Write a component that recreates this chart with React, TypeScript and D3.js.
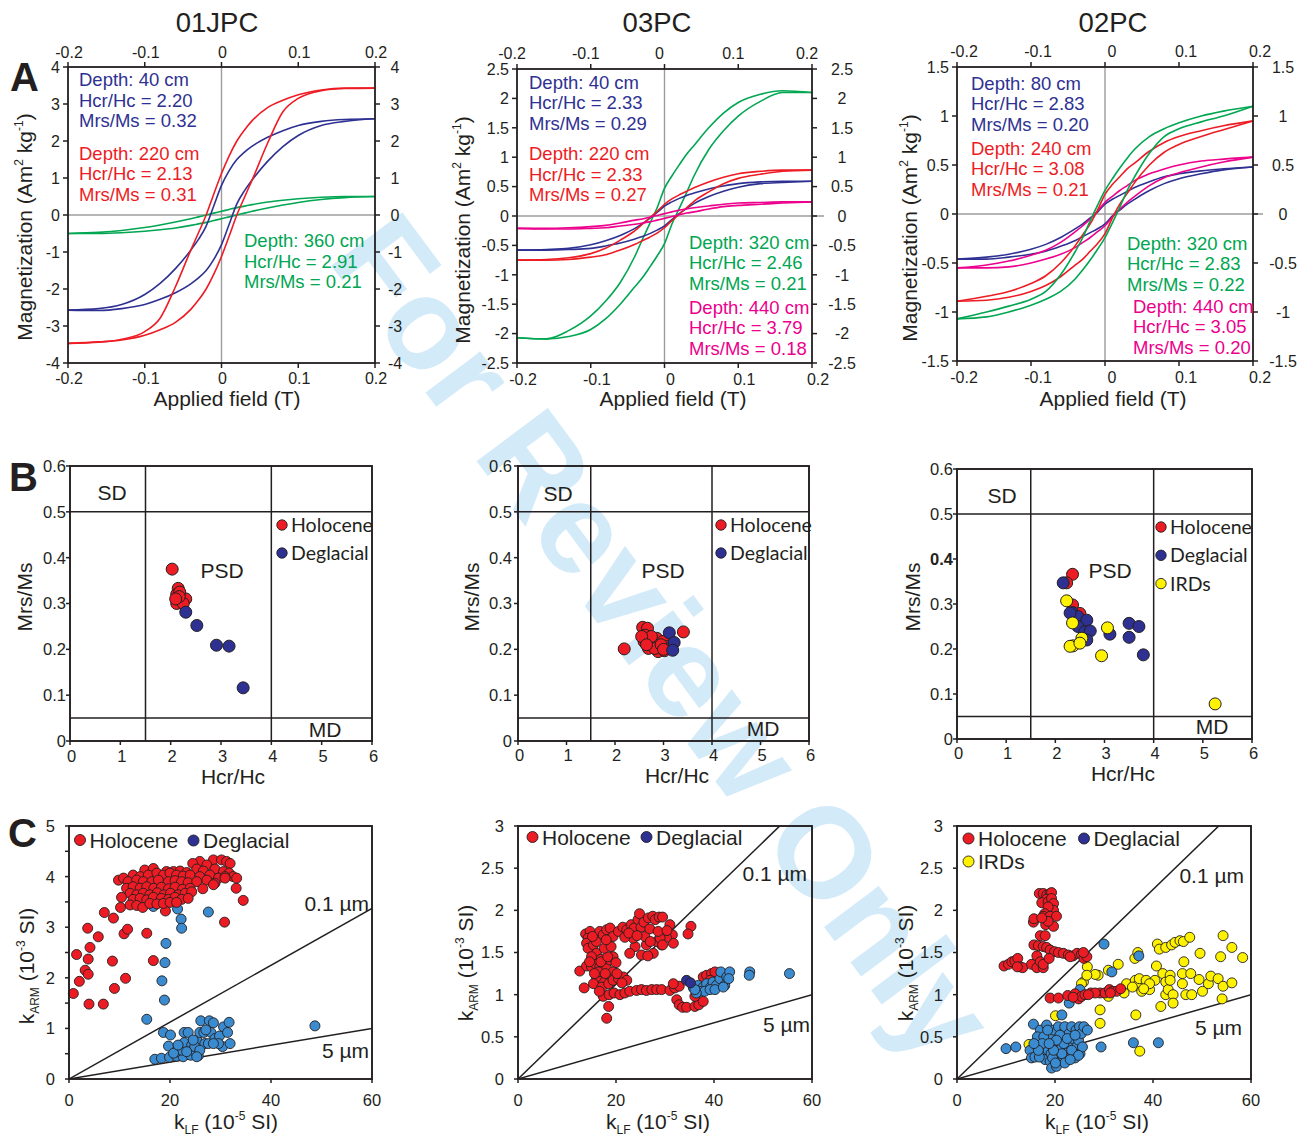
import React from 'react';
import * as d3 from 'd3';

const SANS = '"Liberation Sans", Arial, Helvetica, sans-serif';
const LEGEND_SANS = 'Lato, "Liberation Sans", sans-serif';
const INK = '#231f20';

const NAVY = '#2e3192';
const RED = '#ed1c24';
const GREEN = '#00a651';
const MAGENTA = '#ec008c';
const SKY = '#3b8bd0';
const YELLOW = '#fff200';

// ---------- A: hysteresis loops (field in T, magnetization in Am2/kg) ----------
const FIELD_T = [-0.2, -0.16, -0.13, -0.1, -0.08, -0.06, -0.04, -0.03, -0.02, -0.01, 0, 0.01, 0.02, 0.03, 0.04, 0.06, 0.08, 0.1, 0.13, 0.16, 0.2];
const FIELD_TICKS = [-0.2, -0.1, 0, 0.1, 0.2];

// 01JPC
const jpc01_40cm_desc = [-2.57, -2.53, -2.42, -2.15, -1.85, -1.45, -0.95, -0.66, -0.3, 0.25, 0.8, 1.2, 1.5, 1.7, 1.86, 2.1, 2.28, 2.42, 2.53, 2.58, 2.6];
const jpc01_40cm_asc = [-2.57, -2.58, -2.53, -2.42, -2.28, -2.1, -1.86, -1.7, -1.5, -1.2, -0.8, -0.25, 0.3, 0.66, 0.95, 1.45, 1.85, 2.15, 2.42, 2.53, 2.6];
const jpc01_220cm_desc = [-3.47, -3.44, -3.36, -3.15, -2.79, -1.94, -0.95, -0.48, 0.0, 0.57, 1.12, 1.6, 2.0, 2.3, 2.55, 2.9, 3.1, 3.25, 3.38, 3.43, 3.43];
const jpc01_220cm_asc = [-3.47, -3.43, -3.38, -3.25, -3.1, -2.9, -2.55, -2.3, -2.0, -1.6, -1.12, -0.57, 0.0, 0.48, 0.95, 1.94, 2.79, 3.15, 3.36, 3.42, 3.43];
const jpc01_360cm_desc = [-0.5, -0.47, -0.42, -0.34, -0.27, -0.19, -0.1, -0.05, 0.0, 0.05, 0.1, 0.15, 0.2, 0.24, 0.28, 0.35, 0.4, 0.44, 0.48, 0.5, 0.5];
const jpc01_360cm_asc = [-0.5, -0.5, -0.48, -0.44, -0.4, -0.35, -0.28, -0.24, -0.2, -0.15, -0.1, -0.05, 0.0, 0.05, 0.1, 0.19, 0.27, 0.34, 0.42, 0.47, 0.5];

// 03PC
const pc03_40cm_desc = [-0.58, -0.57, -0.55, -0.49, -0.42, -0.33, -0.21, -0.13, -0.04, 0.06, 0.17, 0.24, 0.3, 0.35, 0.39, 0.46, 0.51, 0.55, 0.58, 0.59, 0.59];
const pc03_40cm_asc = [-0.58, -0.58, -0.57, -0.55, -0.51, -0.46, -0.39, -0.35, -0.3, -0.24, -0.17, -0.06, 0.04, 0.13, 0.21, 0.33, 0.42, 0.49, 0.55, 0.57, 0.59];
const pc03_220cm_desc = [-0.75, -0.74, -0.71, -0.64, -0.55, -0.41, -0.25, -0.14, -0.03, 0.08, 0.2, 0.29, 0.36, 0.42, 0.48, 0.58, 0.66, 0.72, 0.76, 0.78, 0.78];
const pc03_220cm_asc = [-0.75, -0.75, -0.74, -0.7, -0.66, -0.58, -0.48, -0.42, -0.36, -0.29, -0.2, -0.08, 0.03, 0.14, 0.25, 0.41, 0.55, 0.64, 0.71, 0.76, 0.78];
const pc03_320cm_desc = [-2.07, -2.09, -1.95, -1.7, -1.45, -1.13, -0.68, -0.4, -0.13, 0.14, 0.47, 0.68, 0.87, 1.05, 1.2, 1.5, 1.75, 1.93, 2.07, 2.13, 2.1];
const pc03_320cm_asc = [-2.07, -2.09, -2.05, -1.93, -1.75, -1.5, -1.2, -1.05, -0.87, -0.68, -0.47, -0.14, 0.13, 0.4, 0.68, 1.13, 1.45, 1.7, 1.95, 2.1, 2.1];
const pc03_440cm_desc = [-0.21, -0.21, -0.2, -0.18, -0.16, -0.12, -0.07, -0.05, -0.02, 0.01, 0.04, 0.07, 0.1, 0.12, 0.14, 0.17, 0.2, 0.22, 0.23, 0.24, 0.24];
const pc03_440cm_asc = [-0.21, -0.22, -0.22, -0.21, -0.2, -0.17, -0.14, -0.12, -0.1, -0.07, -0.04, -0.01, 0.02, 0.05, 0.07, 0.12, 0.16, 0.18, 0.2, 0.22, 0.24];

// 02PC
const pc02_80cm_desc = [-0.46, -0.44, -0.41, -0.36, -0.31, -0.24, -0.15, -0.1, -0.04, 0.02, 0.1, 0.15, 0.19, 0.23, 0.27, 0.33, 0.38, 0.41, 0.44, 0.46, 0.48];
const pc02_80cm_asc = [-0.46, -0.46, -0.44, -0.41, -0.38, -0.33, -0.27, -0.23, -0.19, -0.15, -0.1, -0.02, 0.04, 0.1, 0.15, 0.24, 0.31, 0.36, 0.41, 0.45, 0.48];
const pc02_240cm_desc = [-0.89, -0.84, -0.79, -0.71, -0.63, -0.5, -0.32, -0.21, -0.1, 0.04, 0.2, 0.3, 0.38, 0.46, 0.52, 0.64, 0.73, 0.79, 0.85, 0.9, 0.95];
const pc02_240cm_asc = [-0.89, -0.88, -0.85, -0.79, -0.73, -0.64, -0.52, -0.46, -0.38, -0.3, -0.2, -0.04, 0.1, 0.21, 0.32, 0.5, 0.63, 0.71, 0.79, 0.86, 0.95];
const pc02_320cm_desc = [-1.07, -1.0, -0.94, -0.87, -0.79, -0.62, -0.38, -0.24, -0.07, 0.09, 0.24, 0.36, 0.47, 0.57, 0.66, 0.79, 0.87, 0.93, 1.0, 1.05, 1.1];
const pc02_320cm_asc = [-1.07, -1.05, -1.0, -0.93, -0.87, -0.79, -0.66, -0.57, -0.47, -0.36, -0.24, -0.09, 0.07, 0.24, 0.38, 0.62, 0.79, 0.87, 0.94, 1.0, 1.1];
const pc02_440cm_desc = [-0.55, -0.52, -0.48, -0.42, -0.37, -0.29, -0.18, -0.12, -0.05, 0.03, 0.12, 0.18, 0.24, 0.29, 0.34, 0.41, 0.46, 0.5, 0.54, 0.56, 0.58];
const pc02_440cm_asc = [-0.55, -0.55, -0.54, -0.5, -0.46, -0.41, -0.34, -0.29, -0.24, -0.18, -0.12, -0.03, 0.05, 0.12, 0.18, 0.29, 0.37, 0.42, 0.48, 0.53, 0.58];

// ---------- B: Day plot (Hcr/Hc vs Mrs/Ms) ----------
const HCR_HC_TICKS = [0, 1, 2, 3, 4, 5, 6];
const MRS_MS_TICKS = [0, 0.1, 0.2, 0.3, 0.4, 0.5, 0.6];
const DOMAIN_HCR_HC = [1.5, 4];
const DOMAIN_MRS_MS = [0.05, 0.5];

const jpc01DayHolocene = [[2.03, 0.375], [2.15, 0.333], [2.12, 0.32], [2.12, 0.3], [2.2, 0.31], [2.3, 0.31], [2.18, 0.325], [2.25, 0.3], [2.17, 0.315], [2.1, 0.31]];
const jpc01DayDeglacial = [[2.3, 0.281], [2.52, 0.252], [2.91, 0.209], [3.16, 0.207], [3.44, 0.116]];

const pc03DayHolocene = [[2.19, 0.201], [3.41, 0.238], [2.57, 0.248], [2.67, 0.246], [2.62, 0.231], [2.6, 0.217], [2.69, 0.202], [2.79, 0.213], [2.86, 0.224], [2.89, 0.195], [2.99, 0.217], [3.02, 0.197], [3.06, 0.206], [3.13, 0.202], [2.92, 0.206], [2.75, 0.228], [2.82, 0.202], [2.55, 0.228], [2.65, 0.21], [2.95, 0.21], [3.0, 0.2]];
const pc03DayDeglacial = [[3.12, 0.236], [3.22, 0.215], [3.19, 0.198]];

const pc02DayHolocene = [[2.35, 0.366], [2.23, 0.347], [2.35, 0.298], [2.5, 0.279]];
const pc02DayDeglacial = [[2.16, 0.347], [2.35, 0.281], [2.46, 0.272], [2.64, 0.264], [2.46, 0.25], [2.6, 0.238], [2.71, 0.24], [2.64, 0.22], [3.11, 0.233], [3.5, 0.257], [3.7, 0.25], [3.5, 0.226], [3.79, 0.187], [2.3, 0.28]];
const pc02DayIRD = [[2.23, 0.307], [2.35, 0.258], [3.06, 0.247], [2.94, 0.185], [2.54, 0.224], [2.36, 0.207], [2.3, 0.206], [2.5, 0.213], [5.25, 0.078]];

// ---------- C: kARM (10^-3 SI) vs kLF (10^-5 SI) ----------
const KLF_TICKS = [0, 20, 40, 60];
const GRAIN_01UM = [[0, 0], [60, 3.37]];
const GRAIN_5UM = [[0, 0], [60, 1.0]];

const jpc01KHolocene = [
  [0.86, 1.69], [1.5, 2.46], [2.05, 1.93], [3.2, 2.15], [3.8, 2.07], [3.96, 1.48], [3.8, 2.37], [3.7, 2.98], [4.16, 2.6], [5.8, 2.81],
  [6.8, 1.48], [7.0, 3.29], [8.6, 2.33], [8.8, 3.18], [9.0, 1.79], [10.9, 2.87], [11.6, 2.96], [11.2, 1.99], [15.4, 2.88], [16.7, 2.34],
  [19.1, 3.32], [30.8, 3.1], [34.5, 3.53],
  [25.9, 4.3], [28.6, 4.33], [30.2, 4.33], [31.2, 4.3], [31.9, 4.26], [24.5, 4.26], [27.3, 4.23],
  [15.0, 4.13], [16.7, 4.16], [19.3, 4.1], [20.7, 4.1], [22.0, 4.11], [23.3, 4.08], [25.3, 4.15], [26.6, 4.11], [28.9, 4.15], [30.6, 4.1], [31.7, 4.07], [32.5, 4.0], [33.2, 3.97],
  [9.8, 3.93], [10.8, 3.97], [12.7, 4.03], [14.1, 4.0], [15.7, 4.03], [17.4, 4.07], [18.7, 4.03], [20.0, 4.07], [21.3, 4.03], [22.6, 4.01], [24.0, 4.03], [25.9, 4.0], [27.9, 4.03], [29.6, 3.97], [30.9, 4.0],
  [11.7, 3.9], [13.4, 3.93], [14.7, 3.9], [16.4, 3.9], [17.7, 3.93], [19.7, 3.9], [21.0, 3.92], [22.3, 3.9], [23.6, 3.88], [25.3, 3.9], [27.3, 3.93], [28.9, 3.87], [30.9, 3.97],
  [11.4, 3.77], [12.7, 3.8], [14.1, 3.77], [15.4, 3.8], [16.8, 3.77], [18.3, 3.79], [19.7, 3.76], [21.0, 3.79], [22.5, 3.75], [24.0, 3.77], [26.5, 3.76], [28.6, 3.84], [33.1, 3.77],
  [12.1, 3.67], [13.4, 3.64], [14.7, 3.67], [16.0, 3.64], [17.5, 3.68], [18.8, 3.64], [20.1, 3.67], [21.6, 3.64], [23.0, 3.67], [24.3, 3.7],
  [10.4, 3.59], [12.7, 3.55], [14.1, 3.57], [15.4, 3.54], [16.7, 3.59], [18.3, 3.57], [19.7, 3.55], [21.0, 3.59], [22.3, 3.55], [23.6, 3.57],
  [10.2, 3.39], [12.1, 3.44], [13.4, 3.43], [14.6, 3.39], [16.0, 3.47], [17.4, 3.46], [18.7, 3.47], [20.0, 3.49], [21.3, 3.49],
];
const jpc01KDeglacial = [
  [16.7, 3.67], [16.7, 3.41], [21.5, 3.36], [22.2, 3.16], [22.3, 2.98], [27.6, 3.3], [19.2, 2.68], [19.0, 2.3], [18.4, 1.94], [18.9, 1.56], [15.4, 1.18], [48.7, 1.05],
  [17.0, 0.39], [18.3, 0.41], [19.9, 0.43], [21.3, 0.45], [22.6, 0.44], [24.1, 0.47], [25.6, 0.46], [18.7, 0.92], [20.1, 0.87], [19.7, 0.65],
  [21.3, 0.54], [22.3, 0.57], [22.8, 0.72], [22.8, 0.92], [23.6, 0.92], [24.3, 0.67], [24.5, 0.57], [25.3, 0.77], [25.9, 0.92], [26.1, 1.15],
  [26.7, 0.92], [26.9, 0.7], [27.8, 1.15], [28.6, 1.11], [28.1, 0.92], [27.6, 0.7], [28.9, 0.8], [29.8, 0.85], [30.6, 1.03], [30.4, 0.64],
  [31.4, 0.92], [31.7, 1.12], [31.9, 0.7], [29.6, 0.7], [28.6, 0.7], [24.9, 0.64], [25.9, 0.57], [20.7, 0.51], [23.3, 0.54], [25.3, 0.44],
  [27.1, 0.97], [24.6, 0.77], [21.6, 0.67],
];

const pc03KHolocene = [
  [12.6, 1.28], [13.5, 1.08], [13.8, 1.72], [14.7, 1.75], [14.3, 1.67], [14.0, 1.61], [14.3, 1.55], [15.4, 1.59], [16.0, 1.63], [16.7, 1.75],
  [17.4, 1.71], [18.1, 1.77], [18.8, 1.79], [19.4, 1.69], [20.5, 1.75], [21.4, 1.8], [22.2, 1.77], [23.1, 1.83], [23.7, 1.79], [24.5, 1.89],
  [24.8, 1.96], [25.1, 1.8], [25.7, 1.86], [26.6, 1.91], [27.5, 1.93], [28.0, 1.89], [28.8, 1.92], [29.5, 1.92], [31.0, 1.83], [31.5, 1.71],
  [31.7, 1.61], [30.3, 1.68], [29.3, 1.59], [28.3, 1.63], [27.6, 1.49], [26.2, 1.59], [25.2, 1.47], [23.9, 1.57], [22.8, 1.49], [23.5, 1.67],
  [25.9, 1.69], [27.0, 1.63], [29.0, 1.67], [29.5, 1.59], [35.3, 1.81], [34.7, 1.72], [21.8, 1.68], [16.0, 1.49], [16.9, 1.42], [15.0, 1.45],
  [14.0, 1.34], [15.0, 1.33], [15.9, 1.36], [16.7, 1.33], [17.4, 1.36], [18.1, 1.31], [18.8, 1.41], [19.4, 1.45], [20.0, 1.38], [19.4, 1.27],
  [18.1, 1.21], [17.3, 1.17], [16.0, 1.21], [15.4, 1.13], [17.1, 1.09], [18.5, 1.13], [19.4, 1.17], [20.5, 1.19], [21.5, 1.21], [22.2, 1.17],
  [21.2, 1.14], [17.4, 0.98], [18.6, 1.0], [18.5, 0.86], [18.1, 0.72], [19.6, 1.02], [20.8, 1.0], [21.8, 1.02], [22.8, 1.04], [24.2, 1.05],
  [25.2, 1.06], [26.2, 1.05], [27.3, 1.06], [28.3, 1.06], [29.3, 1.06], [31.0, 1.05], [32.0, 1.08], [32.9, 1.1], [31.7, 1.13], [32.4, 0.94],
  [32.9, 0.88], [33.6, 0.85], [34.4, 0.85], [36.1, 0.86], [36.9, 0.88], [37.8, 0.92], [36.1, 0.98], [37.8, 1.21], [38.5, 1.23], [39.5, 1.25],
  [40.2, 1.27], [39.2, 1.17], [16.4, 1.27], [17.8, 1.25], [15.6, 1.25], [16.9, 1.39], [18.3, 1.45], [14.6, 1.39], [17.6, 1.55], [19.0, 1.57],
  [20.2, 1.25], [16.6, 1.04], [15.2, 1.69], [18.0, 1.65], [22.6, 1.73], [24.3, 1.7], [26.9, 1.78], [28.6, 1.75], [30.4, 1.76], [26.5, 1.46],
];
const pc03KDeglacialNavy = [[34.4, 1.17], [35.2, 1.14]];
const pc03KDeglacial = [
  [35.8, 1.08], [36.8, 1.11], [37.8, 1.09], [38.5, 1.13], [39.3, 1.09], [39.8, 1.15], [40.5, 1.11], [41.2, 1.19], [41.4, 1.27], [42.2, 1.11],
  [42.6, 1.21], [43.2, 1.27], [43.0, 1.19], [37.1, 1.04], [38.1, 1.04], [39.2, 1.06], [40.2, 1.06], [36.4, 1.02], [47.3, 1.27], [47.2, 1.23],
  [55.4, 1.25], [41.9, 1.09], [36.1, 1.06],
];

const pc02KHolocene = [
  [9.6, 1.34], [10.5, 1.36], [11.2, 1.39], [11.8, 1.4], [12.4, 1.43], [12.9, 1.33], [13.4, 1.32], [12.3, 1.33],
  [15.6, 1.86], [15.7, 1.9], [16.3, 1.46], [15.2, 1.36], [16.3, 1.32], [17.6, 1.32], [17.0, 1.39], [17.6, 1.36], [15.7, 1.59], [16.6, 1.58],
  [17.0, 1.7], [18.0, 1.7], [16.8, 2.2], [17.6, 2.2], [18.3, 2.18], [19.0, 2.2], [19.3, 2.21], [18.2, 2.13], [17.3, 2.09], [18.6, 2.1],
  [19.3, 2.14], [19.7, 2.08], [19.7, 2.0], [18.6, 2.04], [17.9, 1.96], [17.6, 1.93], [19.0, 1.93], [20.3, 1.93], [18.1, 1.83], [19.7, 1.81],
  [18.6, 1.87], [17.3, 1.91],
  [17.6, 1.57], [18.3, 1.56], [19.0, 1.53], [19.9, 1.51], [20.7, 1.5], [21.7, 1.49], [22.7, 1.47], [23.7, 1.46], [24.5, 1.49], [25.4, 1.48],
  [25.9, 1.43], [26.5, 1.45], [25.8, 1.5], [23.1, 1.45], [18.8, 1.43],
  [19.0, 0.96], [20.7, 0.96], [22.6, 0.99], [24.1, 1.01], [24.8, 0.95], [25.4, 0.98], [26.1, 1.0], [27.3, 1.02], [29.2, 1.02], [30.2, 1.02],
  [31.1, 1.06], [31.8, 1.04], [32.6, 1.04], [33.4, 1.07], [31.3, 1.02], [28.2, 1.02], [26.8, 1.0], [23.7, 0.97],
];
const pc02KDeglacial = [
  [30.0, 1.6], [31.6, 1.27], [37.1, 1.46], [25.1, 1.06], [22.9, 0.9], [21.4, 0.76], [15.6, 0.65], [10.0, 0.36], [12.0, 0.38], [29.4, 0.38],
  [36.0, 0.43], [41.1, 0.43],
  [14.9, 0.34], [15.2, 0.25], [15.9, 0.26], [16.3, 0.4], [17.0, 0.58], [17.3, 0.46], [17.6, 0.3], [18.0, 0.23], [18.3, 0.64], [18.3, 0.42],
  [18.6, 0.34], [19.0, 0.5], [19.0, 0.21], [19.3, 0.13], [19.7, 0.58], [19.7, 0.42], [20.0, 0.26], [20.3, 0.34], [20.3, 0.15], [20.7, 0.62],
  [20.7, 0.46], [21.0, 0.26], [21.4, 0.38], [21.6, 0.54], [21.7, 0.26], [22.0, 0.62], [22.2, 0.44], [22.4, 0.32], [22.7, 0.25], [22.9, 0.54],
  [23.1, 0.4], [23.4, 0.62], [23.6, 0.48], [23.7, 0.3], [24.1, 0.25], [24.3, 0.58], [24.4, 0.38], [24.8, 0.46], [25.0, 0.62], [25.1, 0.3],
  [25.4, 0.54], [25.6, 0.38], [25.9, 0.62], [26.6, 0.58], [16.8, 0.26], [16.4, 0.5], [17.7, 0.5], [17.4, 0.42], [18.5, 0.58], [19.2, 0.3],
  [19.5, 0.25], [21.0, 0.52], [21.8, 0.42], [22.5, 0.48], [23.4, 0.34], [20.3, 0.46], [21.4, 0.3], [19.7, 0.34], [18.8, 0.42], [24.1, 0.52],
  [24.8, 0.28], [16.6, 0.34], [15.7, 0.42], [22.0, 0.19], [20.1, 0.19], [23.1, 0.23],
];
const pc02KIRD = [
  [17.6, 0.47], [14.7, 0.41], [20.1, 0.75],
  [26.6, 1.33], [25.8, 1.15], [28.8, 1.23], [28.2, 1.24], [30.9, 1.29], [32.9, 1.36], [34.1, 1.02], [34.6, 1.13], [36.3, 1.43], [36.9, 1.5],
  [36.4, 1.17], [36.8, 1.11], [37.2, 1.19], [35.8, 1.09], [37.7, 1.04], [38.6, 1.17], [39.3, 1.06], [40.4, 1.17], [40.7, 1.34], [40.9, 1.6],
  [41.3, 1.54], [42.6, 1.56], [43.8, 1.59], [44.5, 1.62], [45.5, 1.64], [46.2, 1.63], [47.5, 1.68], [42.0, 1.25], [42.6, 1.15], [42.6, 1.0],
  [43.1, 1.06], [43.5, 1.23], [43.5, 1.17], [44.1, 1.0], [44.1, 0.9], [41.6, 0.86], [46.0, 1.13], [46.0, 1.25], [46.3, 1.39], [46.7, 1.0],
  [47.7, 1.25], [47.9, 1.0], [49.6, 1.49], [49.4, 1.18], [50.1, 1.04], [51.3, 1.13], [51.8, 1.22], [53.3, 1.19], [53.8, 1.45], [54.3, 1.7],
  [54.3, 1.1], [54.1, 0.95], [56.1, 1.56], [56.1, 1.14], [58.3, 1.44], [29.2, 0.66], [29.2, 0.82], [26.5, 1.23], [37.3, 0.33], [36.5, 0.76],
  [30.9, 0.98], [39.3, 1.13], [38.1, 1.07], [25.4, 1.13],
];

// ---------- layout ----------
type Loop = { desc: number[]; asc: number[]; color: string };
type Note = { x: number; y: number; color: string; lines: string[] };

const HYST_PANELS = [
  {
    title: '01JPC', titleX: 217, left: 68, top: 67, width: 307, height: 296, yMax: 4, yStep: 1,
    topLabelY: 58, bottomLabelY: 384, topShift: 1, bottomShift: 1, rightLabelCx: 20, zeroExtend: 0,
    yTitleX: 32, yTitleY: 227, xTitleX: 227,
    loops: [
      { desc: jpc01_360cm_desc, asc: jpc01_360cm_asc, color: GREEN },
      { desc: jpc01_40cm_desc, asc: jpc01_40cm_asc, color: NAVY },
      { desc: jpc01_220cm_desc, asc: jpc01_220cm_asc, color: RED },
    ] as Loop[],
    notes: [
      { x: 79, y: 86, color: NAVY, lines: ['Depth: 40 cm', 'Hcr/Hc = 2.20', 'Mrs/Ms = 0.32'] },
      { x: 79, y: 159.5, color: RED, lines: ['Depth: 220 cm', 'Hcr/Hc = 2.13', 'Mrs/Ms = 0.31'] },
      { x: 244, y: 247, color: GREEN, lines: ['Depth: 360 cm', 'Hcr/Hc = 2.91', 'Mrs/Ms = 0.21'] },
    ] as Note[],
  },
  {
    title: '03PC', titleX: 657, left: 517, top: 69, width: 295, height: 294, yMax: 2.5, yStep: 0.5,
    topLabelY: 59, bottomLabelY: 385, topShift: -5, bottomShift: 6, rightLabelCx: 30, zeroExtend: 12,
    yTitleX: 470, yTitleY: 230, xTitleX: 673,
    loops: [
      { desc: pc03_320cm_desc, asc: pc03_320cm_asc, color: GREEN },
      { desc: pc03_40cm_desc, asc: pc03_40cm_asc, color: NAVY },
      { desc: pc03_220cm_desc, asc: pc03_220cm_asc, color: RED },
      { desc: pc03_440cm_desc, asc: pc03_440cm_asc, color: MAGENTA },
    ] as Loop[],
    notes: [
      { x: 529, y: 88.5, color: NAVY, lines: ['Depth: 40 cm', 'Hcr/Hc = 2.33', 'Mrs/Ms = 0.29'] },
      { x: 529, y: 160, color: RED, lines: ['Depth: 220 cm', 'Hcr/Hc = 2.33', 'Mrs/Ms = 0.27'] },
      { x: 689, y: 248.5, color: GREEN, lines: ['Depth: 320 cm', 'Hcr/Hc = 2.46', 'Mrs/Ms = 0.21'] },
      { x: 689, y: 313.5, color: MAGENTA, lines: ['Depth: 440 cm', 'Hcr/Hc = 3.79', 'Mrs/Ms = 0.18'] },
    ] as Note[],
  },
  {
    title: '02PC', titleX: 1113, left: 957, top: 67, width: 296, height: 294, yMax: 1.5, yStep: 0.5,
    topLabelY: 57, bottomLabelY: 383, topShift: 7, bottomShift: 7, rightLabelCx: 30, zeroExtend: 10,
    yTitleX: 917, yTitleY: 228, xTitleX: 1113,
    loops: [
      { desc: pc02_80cm_desc, asc: pc02_80cm_asc, color: NAVY },
      { desc: pc02_440cm_desc, asc: pc02_440cm_asc, color: MAGENTA },
      { desc: pc02_240cm_desc, asc: pc02_240cm_asc, color: RED },
      { desc: pc02_320cm_desc, asc: pc02_320cm_asc, color: GREEN },
    ] as Loop[],
    notes: [
      { x: 971, y: 89.5, color: NAVY, lines: ['Depth: 80 cm', 'Hcr/Hc = 2.83', 'Mrs/Ms = 0.20'] },
      { x: 971, y: 154.5, color: RED, lines: ['Depth: 240 cm', 'Hcr/Hc = 3.08', 'Mrs/Ms = 0.21'] },
      { x: 1127, y: 249.5, color: GREEN, lines: ['Depth: 320 cm', 'Hcr/Hc = 2.83', 'Mrs/Ms = 0.22'] },
      { x: 1133, y: 312.5, color: MAGENTA, lines: ['Depth: 440 cm', 'Hcr/Hc = 3.05', 'Mrs/Ms = 0.20'] },
    ] as Note[],
  },
];

const fmt = (v: number) => String(Math.round(v * 100) / 100);

function HysteresisPanel(p: (typeof HYST_PANELS)[number]) {
  const { left, top, width, height, yMax, yStep } = p;
  const right = left + width;
  const bottom = top + height;
  const x = d3.scaleLinear().domain([-0.2, 0.2]).range([left, right]);
  const y = d3.scaleLinear().domain([-yMax, yMax]).range([bottom, top]);
  const yTicks = d3.range(-yMax, yMax + yStep / 2, yStep).map((v) => Math.round(v * 100) / 100);
  const line = d3
    .line<number>()
    .x((_, i) => x(FIELD_T[i]))
    .y((d) => y(d))
    .curve(d3.curveMonotoneX);
  const tk = 5;
  return (
    <g>
      <text x={p.titleX} y={32} fontSize={27.5} textAnchor="middle" fill={INK}>{p.title}</text>
      <line x1={x(0)} x2={x(0)} y1={top} y2={bottom} stroke="#9c9c9c" strokeWidth={1.4} />
      <line x1={left} x2={right + p.zeroExtend} y1={y(0)} y2={y(0)} stroke="#9c9c9c" strokeWidth={1.4} />
      {p.loops.map((l, i) => (
        <g key={i} fill="none" stroke={l.color} strokeWidth={1.6}>
          <path d={line(l.desc) || ''} />
          <path d={line(l.asc) || ''} />
        </g>
      ))}
      <rect x={left} y={top} width={width} height={height} fill="none" stroke={INK} strokeWidth={1.8} />
      {FIELD_TICKS.map((t) => (
        <g key={t}>
          <line x1={x(t)} x2={x(t)} y1={bottom} y2={bottom + tk} stroke={INK} strokeWidth={1.5} />
          <line x1={x(t)} x2={x(t)} y1={top} y2={top - tk} stroke={INK} strokeWidth={1.5} />
          <text x={x(t) + p.bottomShift} y={p.bottomLabelY} fontSize={16} textAnchor="middle" fill={INK}>{fmt(t)}</text>
          <text x={x(t) + p.topShift} y={p.topLabelY} fontSize={16} textAnchor="middle" fill={INK}>{fmt(t)}</text>
        </g>
      ))}
      {yTicks.map((t) => (
        <g key={t}>
          <line x1={left} x2={left - tk} y1={y(t)} y2={y(t)} stroke={INK} strokeWidth={1.5} />
          <line x1={right} x2={right + tk} y1={y(t)} y2={y(t)} stroke={INK} strokeWidth={1.5} />
          <text x={left - 8} y={y(t)} dy="0.36em" fontSize={16} textAnchor="end" fill={INK}>{fmt(t)}</text>
          <text x={right + p.rightLabelCx} y={y(t)} dy="0.36em" fontSize={16} textAnchor="middle" fill={INK}>{fmt(t)}</text>
        </g>
      ))}
      {p.notes.map((n, i) => (
        <text key={i} fontSize={18.5} fill={n.color}>
          {n.lines.map((s, j) => (
            <tspan key={j} x={n.x} y={n.y + j * 20.6}>{s}</tspan>
          ))}
        </text>
      ))}
      <text x={p.xTitleX} y={406} fontSize={21} textAnchor="middle" fill={INK}>Applied field (T)</text>
      <text transform={`translate(${p.yTitleX},${p.yTitleY}) rotate(-90)`} fontSize={21} textAnchor="middle" fill={INK}>
        Magnetization (Am<tspan fontSize={12} dy={-9}>2</tspan>
        <tspan dy={9}> kg</tspan>
        <tspan fontSize={12} dy={-9}>-1</tspan>
        <tspan dy={9}>)</tspan>
      </text>
    </g>
  );
}

type Series = { points: number[][]; fill: string };
type LegendItem = { label: string; fill: string };

const DAY_PANELS = [
  {
    left: 70, top: 466, width: 302, height: 275, xLabelY: 762, yLabelGap: 4, boldTick: -1,
    series: [
      { points: jpc01DayHolocene, fill: RED },
      { points: jpc01DayDeglacial, fill: NAVY },
    ] as Series[],
    legend: [{ label: 'Holocene', fill: RED }, { label: 'Deglacial', fill: NAVY }] as LegendItem[],
    legendX: 282, legendY: 525, legendStep: 28,
    sd: [112, 500], psd: [222, 578], md: [325, 737],
    yTitleX: 32, xTitleX: 233, xTitleY: 784,
  },
  {
    left: 518, top: 466, width: 291, height: 275, xLabelY: 761, yLabelGap: 6, boldTick: -1,
    series: [
      { points: pc03DayHolocene, fill: RED },
      { points: pc03DayDeglacial, fill: NAVY },
    ] as Series[],
    legend: [{ label: 'Holocene', fill: RED }, { label: 'Deglacial', fill: NAVY }] as LegendItem[],
    legendX: 721, legendY: 525, legendStep: 28,
    sd: [558, 501], psd: [663, 578], md: [763, 736],
    yTitleX: 479, xTitleX: 677, xTitleY: 783,
  },
  {
    left: 957, top: 469, width: 295, height: 270, xLabelY: 759, yLabelGap: 4, boldTick: 0.4,
    series: [
      { points: pc02DayHolocene, fill: RED },
      { points: pc02DayDeglacial, fill: NAVY },
      { points: pc02DayIRD, fill: YELLOW },
    ] as Series[],
    legend: [{ label: 'Holocene', fill: RED }, { label: 'Deglacial', fill: NAVY }, { label: 'IRDs', fill: YELLOW }] as LegendItem[],
    legendX: 1161, legendY: 527, legendStep: 28.3,
    sd: [1002, 503], psd: [1110, 578], md: [1212, 734],
    yTitleX: 920, xTitleX: 1123, xTitleY: 781,
  },
];

function DayPlot(p: (typeof DAY_PANELS)[number]) {
  const { left, top, width, height } = p;
  const right = left + width;
  const bottom = top + height;
  const x = d3.scaleLinear().domain([0, 6]).range([left, right]);
  const y = d3.scaleLinear().domain([0, 0.6]).range([bottom, top]);
  return (
    <g>
      {DOMAIN_MRS_MS.map((v) => (
        <line key={v} x1={left} x2={right} y1={y(v)} y2={y(v)} stroke={INK} strokeWidth={1.5} />
      ))}
      {DOMAIN_HCR_HC.map((v) => (
        <line key={v} x1={x(v)} x2={x(v)} y1={top} y2={bottom} stroke={INK} strokeWidth={1.5} />
      ))}
      <rect x={left} y={top} width={width} height={height} fill="none" stroke={INK} strokeWidth={1.9} />
      {HCR_HC_TICKS.map((t) => (
        <g key={t}>
          <line x1={x(t)} x2={x(t)} y1={bottom} y2={bottom + 4} stroke={INK} strokeWidth={1.5} />
          <text x={x(t) + 1.5} y={p.xLabelY} fontSize={16.5} textAnchor="middle" fill={INK}>{t}</text>
        </g>
      ))}
      {MRS_MS_TICKS.map((t) => (
        <g key={t}>
          <line x1={left} x2={left - 4} y1={y(t)} y2={y(t)} stroke={INK} strokeWidth={1.5} />
          <text x={left - p.yLabelGap} y={y(t)} dy="0.36em" fontSize={16.5} textAnchor="end" fill={INK}
            fontWeight={t === p.boldTick ? 'bold' : 'normal'}>{fmt(t)}</text>
        </g>
      ))}
      <text x={p.sd[0]} y={p.sd[1]} fontSize={21} textAnchor="middle" fill={INK}>SD</text>
      <text x={p.psd[0]} y={p.psd[1]} fontSize={21} textAnchor="middle" fill={INK}>PSD</text>
      <text x={p.md[0]} y={p.md[1]} fontSize={21} textAnchor="middle" fill={INK}>MD</text>
      {p.series.map((s, i) => (
        <g key={i}>
          {s.points.map((d, j) => (
            <circle key={j} cx={x(d[0])} cy={y(d[1])} r={6} fill={s.fill} stroke={INK} strokeWidth={1} />
          ))}
        </g>
      ))}
      {p.legend.map((l, i) => (
        <g key={l.label}>
          <circle cx={p.legendX} cy={p.legendY + i * p.legendStep} r={5.2} fill={l.fill} stroke={INK} strokeWidth={0.9} />
          <text x={p.legendX + 9} y={p.legendY + i * p.legendStep + 7} fontSize={19.5} fontFamily={LEGEND_SANS} fill={INK}>{l.label}</text>
        </g>
      ))}
      <text x={p.xTitleX} y={p.xTitleY} fontSize={21} textAnchor="middle" fill={INK}>Hcr/Hc</text>
      <text transform={`translate(${p.yTitleX},597) rotate(-90)`} fontSize={21} textAnchor="middle" fill={INK}>Mrs/Ms</text>
    </g>
  );
}

type KLegend = { label: string; fill: string; cx: number; cy: number };

const K_PANELS = [
  {
    id: 'k01jpc', left: 69, top: 826, width: 303, height: 253, yMax: 5,
    yLabels: [0, 1, 2, 3, 4, 5], yTicks: d3.range(0, 5.01, 0.5),
    series: [
      { points: jpc01KDeglacial, fill: SKY },
      { points: jpc01KHolocene, fill: RED },
    ] as Series[],
    legend: [
      { label: 'Holocene', fill: RED, cx: 80, cy: 840 },
      { label: 'Deglacial', fill: NAVY, cx: 193.5, cy: 840.5 },
    ] as KLegend[],
    fineLabel: [369, 911], coarseLabel: [369, 1058],
    yTitleX: 34, yTitleY: 966, xTitleX: 226,
  },
  {
    id: 'k03pc', left: 518, top: 826, width: 294, height: 253, yMax: 3,
    yLabels: [0, 0.5, 1, 1.5, 2, 2.5, 3], yTicks: d3.range(0, 3.01, 0.5),
    series: [
      { points: pc03KHolocene, fill: RED },
      { points: pc03KDeglacial, fill: SKY },
      { points: pc03KDeglacialNavy, fill: NAVY },
    ] as Series[],
    legend: [
      { label: 'Holocene', fill: RED, cx: 532.5, cy: 837 },
      { label: 'Deglacial', fill: NAVY, cx: 646.5, cy: 837 },
    ] as KLegend[],
    fineLabel: [807, 880.5], coarseLabel: [810, 1031.5],
    yTitleX: 473, yTitleY: 963, xTitleX: 658,
  },
  {
    id: 'k02pc', left: 957, top: 826, width: 294, height: 253, yMax: 3,
    yLabels: [0, 0.5, 1, 1.5, 2, 2.5, 3], yTicks: d3.range(0, 3.01, 0.5),
    series: [
      { points: pc02KIRD, fill: YELLOW },
      { points: pc02KDeglacial, fill: SKY },
      { points: pc02KHolocene, fill: RED },
    ] as Series[],
    legend: [
      { label: 'Holocene', fill: RED, cx: 968.5, cy: 838.5 },
      { label: 'Deglacial', fill: NAVY, cx: 1084, cy: 838.5 },
      { label: 'IRDs', fill: YELLOW, cx: 968.5, cy: 861.5 },
    ] as KLegend[],
    fineLabel: [1244, 883], coarseLabel: [1242, 1035],
    yTitleX: 913, yTitleY: 963, xTitleX: 1097,
  },
];

function KarmPanel(p: (typeof K_PANELS)[number]) {
  const { left, top, width, height, yMax } = p;
  const right = left + width;
  const bottom = top + height;
  const x = d3.scaleLinear().domain([0, 60]).range([left, right]);
  const y = d3.scaleLinear().domain([0, yMax]).range([bottom, top]);
  const gl = d3.line<number[]>().x((d) => x(d[0])).y((d) => y(d[1]));
  return (
    <g>
      <defs>
        <clipPath id={`clip-${p.id}`}>
          <rect x={left} y={top} width={width} height={height} />
        </clipPath>
      </defs>
      <g clipPath={`url(#clip-${p.id})`} fill="none" stroke={INK} strokeWidth={1.5}>
        <path d={gl(GRAIN_01UM) || ''} />
        <path d={gl(GRAIN_5UM) || ''} />
      </g>
      <text x={p.fineLabel[0]} y={p.fineLabel[1]} fontSize={21} textAnchor="end" fill={INK}>0.1 µm</text>
      <text x={p.coarseLabel[0]} y={p.coarseLabel[1]} fontSize={21} textAnchor="end" fill={INK}>5 µm</text>
      {p.series.map((s, i) => (
        <g key={i}>
          {s.points.map((d, j) => (
            <circle key={j} cx={x(d[0])} cy={y(d[1])} r={5} fill={s.fill} stroke={INK} strokeWidth={0.9} />
          ))}
        </g>
      ))}
      <rect x={left} y={top} width={width} height={height} fill="none" stroke={INK} strokeWidth={1.9} />
      {KLF_TICKS.map((t) => (
        <g key={t}>
          <line x1={x(t)} x2={x(t)} y1={bottom} y2={bottom + 4} stroke={INK} strokeWidth={1.5} />
          <text x={x(t)} y={1106} fontSize={16.5} textAnchor="middle" fill={INK}>{t}</text>
        </g>
      ))}
      {p.yTicks.map((t) => (
        <line key={t} x1={left} x2={left - 4} y1={y(t)} y2={y(t)} stroke={INK} strokeWidth={1.5} />
      ))}
      {p.yLabels.map((t) => (
        <text key={t} x={left - 14} y={y(t)} dy="0.36em" fontSize={16.5} textAnchor="end" fill={INK}>{fmt(t)}</text>
      ))}
      {p.legend.map((l) => (
        <g key={l.label}>
          <circle cx={l.cx} cy={l.cy} r={5.5} fill={l.fill} stroke={INK} strokeWidth={0.9} />
          <text x={l.cx + 9.5} y={l.cy + 7.5} fontSize={21} fill={INK}>{l.label}</text>
        </g>
      ))}
      <text x={p.xTitleX} y={1129} fontSize={21} textAnchor="middle" fill={INK}>
        k<tspan fontSize={12} dy={5}>LF</tspan>
        <tspan dy={-5}> (10</tspan>
        <tspan fontSize={12} dy={-9}>-5</tspan>
        <tspan dy={9}> SI)</tspan>
      </text>
      <text transform={`translate(${p.yTitleX},${p.yTitleY}) rotate(-90)`} fontSize={21} textAnchor="middle" fill={INK}>
        k<tspan fontSize={12} dy={5}>ARM</tspan>
        <tspan dy={-5}> (10</tspan>
        <tspan fontSize={12} dy={-9}>-3</tspan>
        <tspan dy={9}> SI)</tspan>
      </text>
    </g>
  );
}

export default function App() {
  return (
    <svg
      width={1302}
      height={1137}
      viewBox="0 0 1302 1137"
      style={{ position: 'absolute', left: 0, top: 0, display: 'block' }}
      fontFamily={SANS}
    >
      <rect width={1302} height={1137} fill="#ffffff" />
      <text
        transform="translate(628,664) rotate(53.3)"
        fontSize={129}
        fontWeight="bold"
        textAnchor="middle"
        fill="#d3eaf9"
      >
        For Review Only
      </text>
      <text x={10} y={91} fontSize={40} fontWeight="bold" fill={INK}>A</text>
      <text x={9} y={491} fontSize={40} fontWeight="bold" fill={INK}>B</text>
      <text x={8} y={847} fontSize={40} fontWeight="bold" fill={INK}>C</text>
      {HYST_PANELS.map((p) => (
        <HysteresisPanel key={p.title} {...p} />
      ))}
      {DAY_PANELS.map((p, i) => (
        <DayPlot key={i} {...p} />
      ))}
      {K_PANELS.map((p) => (
        <KarmPanel key={p.id} {...p} />
      ))}
    </svg>
  );
}
